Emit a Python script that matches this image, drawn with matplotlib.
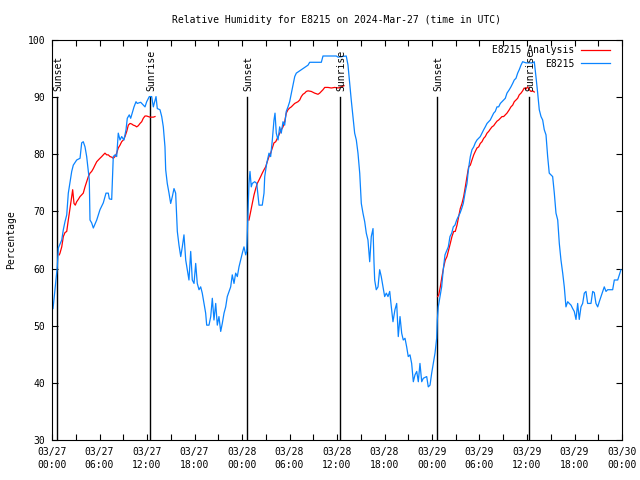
import matplotlib
matplotlib.use("Agg")
import matplotlib.pyplot as plt

# hours since 03/27 00:00 UTC
obs_hours = [0.13, 0.38, 0.51, 0.67, 0.80, 1.23, 1.43, 1.64, 1.86, 2.06, 2.27, 2.49, 2.69, 3.12, 3.54, 3.75,
             3.95, 4.17, 4.38, 4.71, 4.80, 5.01, 5.22, 5.65, 6.06, 6.48, 6.82, 7.11, 7.24, 7.54, 7.62, 7.74,
             7.96, 8.17, 8.37, 8.59, 8.80, 9.09, 9.35, 9.51, 9.76, 9.94, 10.19, 10.36, 10.61, 10.77, 11.20,
             11.75, 11.96, 12.29, 12.59, 12.80, 13.14, 13.30, 13.64, 13.86, 14.06, 14.27, 14.36, 14.56, 14.78,
             14.99, 15.20, 15.41, 15.62, 15.83, 16.04, 16.26, 16.46, 16.67, 16.89, 17.09, 17.30, 17.52, 17.72,
             17.94, 18.15, 18.35, 18.57, 18.78, 18.98, 19.20, 19.41, 19.54, 19.83, 20.05, 20.25, 20.46, 20.68,
             20.88, 21.09, 21.31, 21.51, 21.73, 21.94, 22.14, 22.36, 22.57, 22.77, 22.99, 23.20, 23.41, 23.62,
             23.83, 24.04, 24.25, 24.47, 24.59, 24.67, 24.76, 24.88, 25.01, 25.17, 25.30, 25.60, 25.86, 26.15,
             26.56, 26.78, 26.87, 27.12, 27.41, 27.62, 27.83, 28.04, 28.17, 28.33, 28.55, 28.76, 28.96, 29.18,
             29.39, 29.59, 29.81, 30.02, 30.23, 30.44, 30.66, 30.86, 31.49, 31.70, 32.34, 32.55, 34.02, 34.23,
             35.91, 36.13, 37.17, 37.39, 37.60, 37.80, 38.02, 38.23, 38.44, 38.65, 38.87, 39.07, 39.28, 39.50,
             39.70, 39.91, 40.13, 40.33, 40.55, 40.67, 40.76, 40.96, 41.18, 41.39, 41.59, 41.81, 42.02, 42.23,
             42.44, 42.66, 42.86, 43.07, 43.32, 43.54, 43.74, 43.96, 44.17, 44.37, 44.59, 44.80, 45.00, 45.22,
             45.43, 45.64, 45.85, 46.07, 46.27, 46.48, 46.70, 46.90, 47.33, 47.53, 47.75, 47.96, 48.16, 48.38,
             48.59, 48.67, 48.79, 49.01, 49.22, 49.42, 49.64, 50.06, 50.27, 50.49, 50.69, 50.90, 51.12, 51.32,
             51.54, 51.75, 51.95, 52.21, 52.42, 52.55, 52.71, 52.84, 53.05, 53.27, 53.47, 53.68, 53.90, 54.10,
             54.31, 54.53, 54.73, 54.95, 55.16, 55.36, 55.58, 55.79, 55.99, 56.21, 56.42, 56.63, 56.84, 57.05,
             57.26, 57.47, 57.76, 57.97, 58.19, 58.39, 58.61, 58.82, 59.02, 59.24, 59.45, 59.87, 60.72, 60.92,
             61.13, 61.35, 61.55, 61.77, 61.98, 62.18, 62.40, 62.61, 62.81, 63.24, 63.45, 63.66, 63.88, 64.08,
             64.29, 64.51, 64.71, 64.92, 65.14, 65.34, 65.56, 65.77, 65.97, 66.19, 66.40, 66.60, 66.82, 67.03,
             67.24, 67.45, 67.66, 68.08, 68.30, 68.50, 68.71, 68.93, 69.13, 69.35, 69.56, 69.76, 69.98, 70.19,
             70.82, 71.03, 71.46, 71.87]
obs_rh = [53.0, 56.3, 58.0, 60.3, 63.6, 65.0, 66.8, 68.2, 69.4, 73.2, 75.0, 77.0, 78.1, 79.0, 79.3, 82.0,
          82.2, 81.3, 79.6, 75.5, 68.5, 68.0, 67.1, 68.5, 70.3, 71.5, 73.2, 73.2, 72.2, 72.1, 75.0, 79.6,
          79.9, 79.6, 83.7, 82.5, 83.1, 82.5, 84.3, 86.3, 86.9, 86.3, 87.5, 88.3, 89.2, 88.9, 89.1,
          88.3, 89.2, 90.1, 90.1, 88.3, 90.1, 88.0, 87.8, 86.6, 84.8, 81.3, 77.3, 74.9, 73.2,
          71.4, 72.6, 74.0, 73.2, 66.5, 64.1, 62.1, 63.8, 65.9, 61.5, 59.8, 58.0, 63.0, 58.0,
          57.4, 60.9, 57.4, 56.3, 56.8, 55.7, 53.9, 52.2, 50.1, 50.1, 51.6, 54.8, 51.0, 53.9,
          50.1, 51.6, 49.0, 50.4, 52.2, 53.3, 55.1, 56.0, 56.8, 58.9, 57.4, 59.2, 58.6, 60.3,
          61.5, 62.7, 63.8, 62.4, 63.0, 66.2, 70.3, 74.9, 77.0, 74.3, 74.9, 75.2, 74.9, 71.1,
          71.1, 73.2, 76.1, 78.4, 80.2, 79.6, 82.5, 86.0, 87.2, 83.7, 82.5, 84.8, 83.7, 85.7,
          85.1, 87.5, 88.3, 89.2, 90.7, 92.1, 93.6, 94.2, 94.8, 95.0, 95.6, 96.1, 96.1, 97.2,
          97.2, 97.0, 97.2, 95.6, 92.4, 89.5, 86.6, 83.7, 82.5, 80.2, 76.7, 71.4, 69.7, 68.2,
          66.2, 65.0, 61.2, 65.6, 67.0, 61.2, 58.0, 56.3, 56.8, 59.8, 58.6, 56.8, 55.1, 55.7,
          55.1, 56.0, 53.3, 50.7, 52.8, 53.9, 48.1, 51.6, 48.7, 47.5, 47.8, 46.3, 44.6, 44.9,
          43.4, 40.2, 41.4, 42.0, 40.2, 43.4, 40.2, 40.8, 41.1, 39.3, 39.6, 41.7, 43.4, 45.2,
          47.8, 51.0, 53.3, 55.1, 56.8, 59.8, 62.4, 63.8, 65.6, 66.2, 67.3, 67.6, 68.5, 69.1,
          69.7, 70.5, 71.4, 73.5, 74.9, 76.7, 78.4, 79.6, 80.8, 81.3, 82.0, 82.5, 82.8, 83.1,
          83.7, 84.3, 84.8, 85.4, 85.7, 86.0, 86.6, 87.2, 87.5, 88.3, 88.3, 88.9, 89.2, 89.5,
          89.8, 90.7, 91.3, 91.8, 92.4, 93.0, 93.3, 94.2, 94.8, 95.6, 96.2, 96.0, 96.0, 96.2,
          93.6, 90.7, 87.8, 86.6, 86.0, 84.3, 83.4, 79.6, 76.7, 76.1, 73.2, 69.7, 68.5, 64.4,
          61.5, 59.2, 56.8, 53.3, 54.2, 53.9, 53.6, 53.0, 52.5, 51.1, 53.9, 51.1, 53.3, 53.9,
          55.7, 56.0, 53.9, 53.9, 56.0, 55.8, 53.9, 53.3, 54.2, 55.1, 56.0, 56.8, 56.0, 56.3,
          56.3, 58.0, 58.0, 59.8]

# analysis (night-time segments only)
ana_hours_1 = [0.92, 1.01, 1.23, 1.43, 1.64, 1.86, 2.06, 2.27, 2.49, 2.61, 2.78, 2.94, 3.12, 3.32, 3.54,
               3.75, 3.95, 4.17, 4.38, 4.59, 4.80, 5.01, 5.22, 5.43, 5.65, 5.85, 6.06, 6.28, 6.48, 6.69,
               6.91, 7.11, 7.33, 7.54, 7.74, 7.96, 8.17, 8.37, 8.59, 8.80, 9.01, 9.22, 9.44, 9.64, 9.85,
               10.07, 10.27, 10.48, 10.70, 10.90, 11.12, 11.33, 11.53, 11.75, 11.96, 12.16, 12.38, 12.80, 13.01]
ana_rh_1 = [62.4, 62.7, 63.8, 65.6, 66.3, 66.5, 68.5, 70.5, 72.6, 73.8, 71.4, 71.1, 71.7, 72.1, 72.6,
            72.9, 73.2, 74.3, 75.2, 76.1, 76.7, 77.0, 77.5, 78.1, 78.7, 79.0, 79.3, 79.6, 79.9, 80.2,
            79.9, 79.9, 79.6, 79.5, 79.3, 79.6, 80.2, 81.1, 81.6, 82.2, 82.5, 83.1, 84.0, 85.1, 85.4,
            85.3, 85.1, 85.0, 84.8, 85.0, 85.4, 85.7, 86.3, 86.7, 86.7, 86.6, 86.5, 86.5, 86.6]
ana_hours_2 = [24.88, 25.10, 25.30, 25.52, 25.73, 25.93, 26.15, 26.36, 26.56, 26.78, 26.99, 27.19, 27.41,
               27.62, 27.83, 28.04, 28.26, 28.46, 28.67, 28.96, 29.18, 29.39, 29.59, 29.81, 30.02, 30.23,
               30.44, 30.66, 31.07, 31.29, 31.49, 31.70, 31.92, 32.12, 32.34, 32.75, 33.18, 33.60, 33.81,
               34.23, 34.45, 34.86, 35.28, 35.71, 36.13, 36.54, 36.88]
ana_rh_2 = [68.5, 70.0, 71.4, 72.9, 74.0, 74.9, 75.5, 76.1, 76.7, 77.3, 77.8, 78.7, 79.6,
            80.2, 81.1, 82.0, 82.2, 82.8, 83.4, 84.3, 84.8, 85.7, 87.2, 87.8, 88.1, 88.3,
            88.6, 88.9, 89.2, 89.5, 90.1, 90.5, 90.7, 91.0, 91.1, 91.0, 90.7, 90.5, 90.7,
            91.3, 91.7, 91.7, 91.6, 91.7, 91.6, 91.8, 92.0]
ana_hours_3 = [48.72, 48.85, 49.05, 49.26, 49.48, 49.68, 49.89, 50.11, 50.31, 50.52, 50.74, 50.94, 51.16,
               51.37, 51.57, 51.79, 52.00, 52.21, 52.42, 52.63, 52.84, 53.05, 53.27, 53.47, 53.68, 53.90,
               54.10, 54.31, 54.53, 54.73, 54.95, 55.16, 55.36, 55.58, 55.79, 55.99, 56.21, 56.42, 56.63,
               56.84, 57.05, 57.26, 57.47, 57.76, 57.97, 58.19, 58.39, 58.61, 58.82, 59.02, 59.24, 59.45,
               59.65, 59.87, 60.08, 60.29, 60.50, 60.72, 60.92]
ana_rh_3 = [55.1, 55.4, 56.8, 58.6, 60.3, 61.5, 62.1, 63.3, 64.4, 65.6, 66.5, 66.5, 67.6,
            69.1, 70.5, 71.4, 72.6, 74.3, 76.1, 77.8, 78.1, 79.0, 79.9, 80.5, 81.1, 81.3,
            81.9, 82.2, 82.8, 83.1, 83.7, 84.0, 84.4, 84.8, 85.0, 85.4, 85.8, 86.0, 86.3,
            86.6, 86.6, 86.9, 87.2, 87.8, 88.3, 88.6, 89.2, 89.5, 89.8, 90.4, 90.7, 91.1,
            91.6, 91.4, 91.8, 91.3, 91.0, 91.1, 90.9]

sun_hours = [0.67, 12.38, 24.67, 36.38, 48.67, 60.29]
sun_labels = ["Sunset", "Sunrise", "Sunset", "Sunrise", "Sunset", "Sunrise"]

tick_hours = list(range(0, 73, 6))
tick_labels = ["03/27\n00:00", "03/27\n06:00", "03/27\n12:00", "03/27\n18:00",
               "03/28\n00:00", "03/28\n06:00", "03/28\n12:00", "03/28\n18:00",
               "03/29\n00:00", "03/29\n06:00", "03/29\n12:00", "03/29\n18:00",
               "03/30\n00:00"]

plt.rcParams['font.family'] = ['DejaVu Sans Mono']
plt.rcParams['font.size'] = 7

fig = plt.figure(figsize=(6.4, 4.8), dpi=100)
ax = fig.add_axes([52 / 640, 40 / 480, 570 / 640, 400 / 480])

for h, lab in zip(sun_hours, sun_labels):
    ax.plot([h, h], [30, 90], color='black', lw=1)
    ax.text(h + 0.15, 91, lab, rotation=90, ha='center', va='bottom', fontsize=7)

red = '#ff0000'
ax.plot(ana_hours_1, ana_rh_1, color=red, lw=0.9, label='E8215 Analysis')
ax.plot(ana_hours_2, ana_rh_2, color=red, lw=0.9)
ax.plot(ana_hours_3, ana_rh_3, color=red, lw=0.9)
ax.plot(obs_hours, obs_rh, color='#0a84ff', lw=0.9, label='E8215')

ax.set_xlim(0, 72)
ax.set_ylim(30, 100)
ax.set_xticks(tick_hours)
ax.set_xticklabels(tick_labels, linespacing=1.35)
ax.set_xticks(range(0, 73, 3), minor=True)
ax.set_yticks(range(30, 101, 10))
ax.tick_params(which='both', direction='in', top=True, right=True, length=4, width=0.8, pad=5)

ax.set_title('Relative Humidity for E8215 on 2024-Mar-27 (time in UTC)', fontsize=7, pad=12)
ax.set_ylabel('Percentage', fontsize=7, labelpad=8)

ax.legend(loc='upper right', bbox_to_anchor=(0.986, 0.996), frameon=False, markerfirst=False,
          handlelength=3.0, labelspacing=0.35, borderaxespad=0, handletextpad=0.7, fontsize=7)

fig.savefig('out.png', dpi=100)
